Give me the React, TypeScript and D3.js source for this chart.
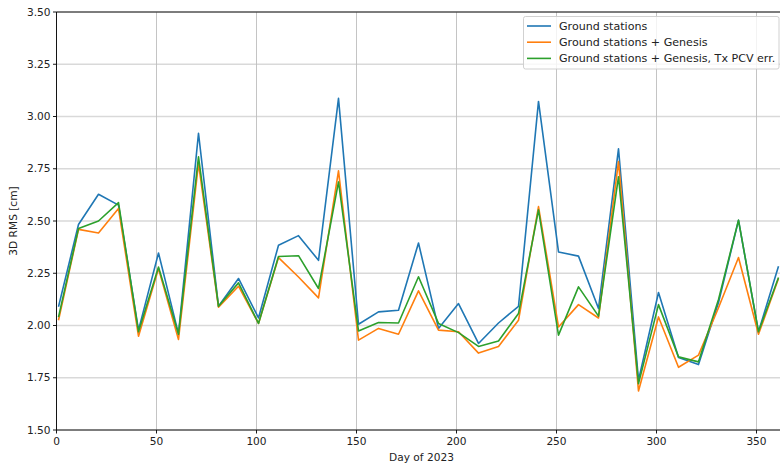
import React from "react";
import * as d3 from "d3";

const days = [1, 11, 21, 31, 41, 51, 61, 71, 81, 91, 101, 111, 121, 131, 141, 151, 161, 171, 181, 191, 201, 211, 221, 231, 241, 251, 261, 271, 281, 291, 301, 311, 321, 331, 341, 351, 361];

const groundStations = [2.09, 2.483, 2.628, 2.576, 1.978, 2.347, 1.96, 2.92, 2.092, 2.225, 2.036, 2.384, 2.43, 2.312, 3.087, 2.006, 2.065, 2.073, 2.395, 1.986, 2.105, 1.914, 2.012, 2.092, 3.072, 2.352, 2.332, 2.081, 2.845, 1.738, 2.158, 1.847, 1.813, 2.11, 2.503, 1.97, 2.284];
const withGenesis = [2.025, 2.46, 2.443, 2.56, 1.949, 2.273, 1.933, 2.775, 2.088, 2.188, 2.01, 2.325, 2.232, 2.132, 2.74, 1.93, 1.986, 1.958, 2.166, 1.978, 1.97, 1.868, 1.9, 2.025, 2.569, 1.993, 2.1, 2.036, 2.784, 1.687, 2.041, 1.8, 1.858, 2.085, 2.325, 1.958, 2.225];
const withGenesisPcv = [2.04, 2.464, 2.5, 2.588, 1.97, 2.28, 1.958, 2.807, 2.092, 2.204, 2.01, 2.33, 2.334, 2.177, 2.687, 1.974, 2.014, 2.012, 2.233, 2.01, 1.966, 1.9, 1.926, 2.057, 2.553, 1.954, 2.185, 2.045, 2.712, 1.722, 2.1, 1.85, 1.826, 2.125, 2.504, 1.97, 2.23];

const seriesNames = ["Ground stations", "Ground stations + Genesis", "Ground stations + Genesis, Tx PCV err."];
const seriesColors = ["#1f77b4", "#ff7f0e", "#2ca02c"];
const xTicks = [0, 50, 100, 150, 200, 250, 300, 350];
const yTicks = [1.5, 1.75, 2.0, 2.25, 2.5, 2.75, 3.0, 3.25, 3.5];

const W = 780, H = 463;
const left = 56.5, right = 786.5, top = 12, bottom = 430;
const font = "DejaVu Sans, sans-serif";

export default function App() {
  const x = d3.scaleLinear().domain([0, 365]).range([left, right]);
  const y = d3.scaleLinear().domain([1.5, 3.5]).range([bottom, top]);
  const series = [groundStations, withGenesis, withGenesisPcv];
  const line = d3.line<number>().x((_, i) => x(days[i])).y((d) => y(d));

  return (
    <svg width={W} height={H} style={{ position: "absolute", left: 0, top: 0, background: "#fff" }} fontFamily={font}>
      <rect x={0} y={0} width={W} height={H} fill="#fff" />
      {yTicks.map((t) => (
        <line key={"gy" + t} x1={left} x2={right} y1={y(t)} y2={y(t)} stroke="#d9d9d9" strokeWidth={1.6} />
      ))}
      {xTicks.map((t) => (
        <line key={"gx" + t} x1={x(t)} x2={x(t)} y1={top} y2={bottom} stroke="#bdbdbd" strokeWidth={0.9} />
      ))}
      {series.map((s, i) => (
        <path key={"s" + i} d={line(s) || ""} fill="none" stroke={seriesColors[i]} strokeWidth={1.6} strokeLinejoin="round" />
      ))}
      <line x1={left} x2={left} y1={top} y2={bottom} stroke="#000" strokeWidth={0.9} />
      <line x1={left} x2={right} y1={bottom} y2={bottom} stroke="#000" strokeWidth={0.9} />
      <line x1={left} x2={right} y1={top} y2={top} stroke="#000" strokeWidth={0.9} />
      {yTicks.map((t) => (
        <g key={"yt" + t}>
          <line x1={left - 3.5} x2={left} y1={y(t)} y2={y(t)} stroke="#000" strokeWidth={0.9} />
          <text x={left - 6} y={y(t)} dy="0.35em" textAnchor="end" fontSize={10.6} fill="#222">
            {t.toFixed(2)}
          </text>
        </g>
      ))}
      {xTicks.map((t) => (
        <g key={"xt" + t}>
          <line x1={x(t)} x2={x(t)} y1={bottom} y2={bottom + 3.5} stroke="#000" strokeWidth={0.9} />
          <text x={x(t)} y={bottom + 15} textAnchor="middle" fontSize={10.6} fill="#222">
            {t}
          </text>
        </g>
      ))}
      <text x={(left + right) / 2} y={461} textAnchor="middle" fontSize={10.6} fill="#222">Day of 2023</text>
      <text transform={`translate(17,${(top + bottom) / 2}) rotate(-90)`} textAnchor="middle" fontSize={10.6} fill="#222">3D RMS [cm]</text>
      <g>
        <rect x={523.5} y={16.5} width={255.5} height={52.5} rx={2} fill="#fff" fillOpacity={0.8} stroke="#ccc" strokeWidth={0.9} />
        {seriesNames.map((n, i) => (
          <g key={"lg" + i}>
            <line x1={527} x2={551} y1={26 + i * 16.2} y2={26 + i * 16.2} stroke={seriesColors[i]} strokeWidth={1.6} />
            <text x={559} y={26 + i * 16.2} dy="0.35em" fontSize={11.1} fill="#222">{n}</text>
          </g>
        ))}
      </g>
    </svg>
  );
}
